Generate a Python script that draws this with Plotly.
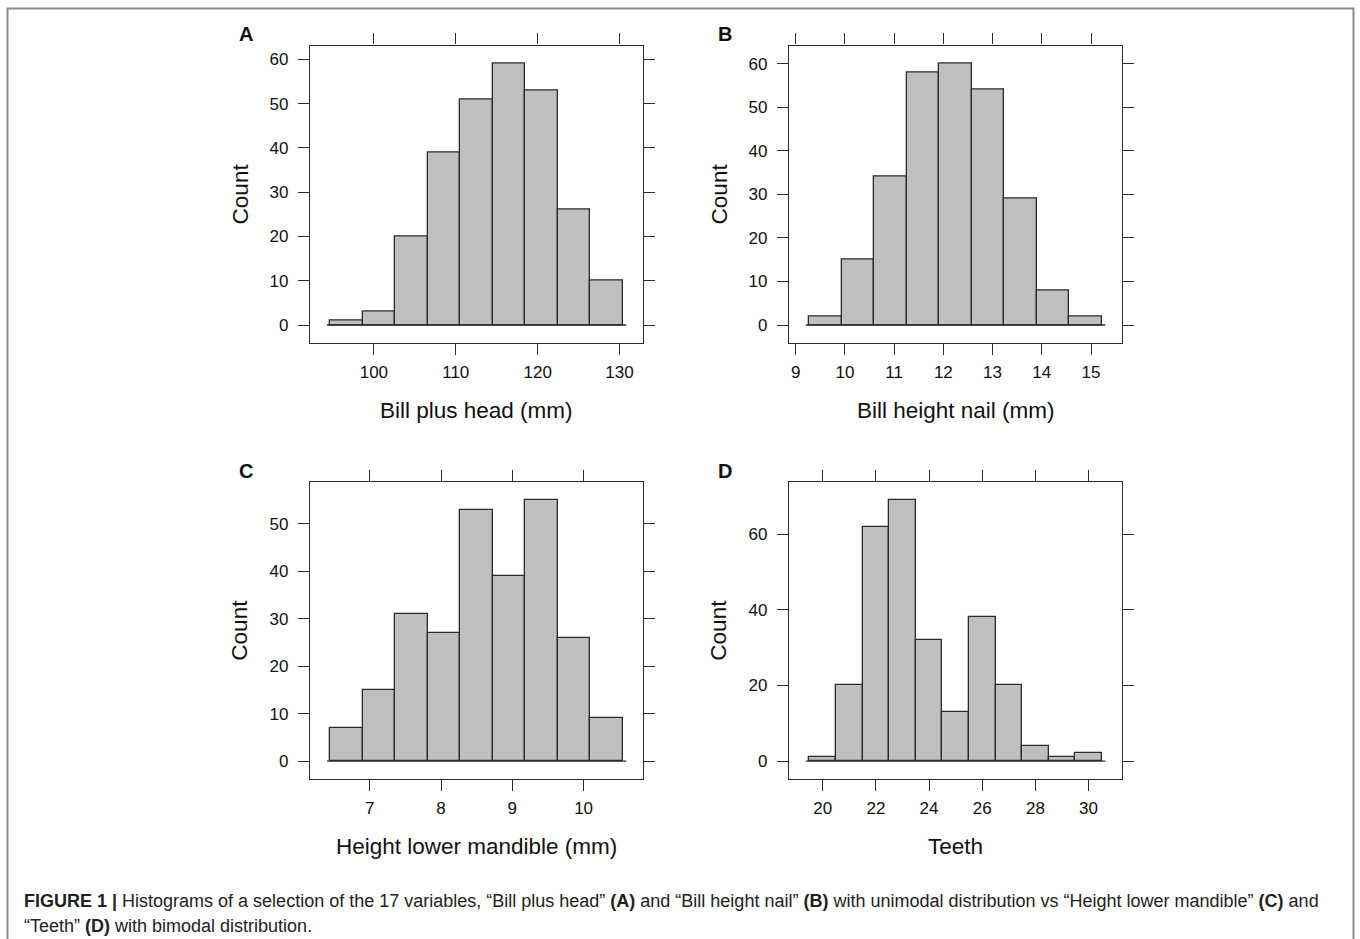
import plotly.graph_objects as go

W, H = 1360, 939

# ---- data ----
a_counts = [1, 3, 20, 39, 51, 59, 53, 26, 10]
a_edges = [94.7, 130.4]
a_xticks = [100, 110, 120, 130]
a_yticks = [0, 10, 20, 30, 40, 50, 60]

b_counts = [2, 15, 34, 58, 60, 54, 29, 8, 2]
b_edges = [9.28, 15.22]
b_xticks = [9, 10, 11, 12, 13, 14, 15]
b_yticks = [0, 10, 20, 30, 40, 50, 60]

c_counts = [7, 15, 31, 27, 53, 39, 55, 26, 9]
c_edges = [6.45, 10.55]
c_xticks = [7, 8, 9, 10]
c_yticks = [0, 10, 20, 30, 40, 50]

d_counts = [1, 20, 62, 69, 32, 13, 38, 20, 4, 1, 2]
d_edges = [19.5, 30.5]
d_xticks = [20, 22, 24, 26, 28, 30]
d_yticks = [0, 20, 40, 60]

panels = [
    ("A", a_counts, a_edges, a_xticks, a_yticks, "Bill plus head (mm)"),
    ("B", b_counts, b_edges, b_xticks, b_yticks, "Bill height nail (mm)"),
    ("C", c_counts, c_edges, c_xticks, c_yticks, "Height lower mandible (mm)"),
    ("D", d_counts, d_edges, d_xticks, d_yticks, "Teeth"),
]

# pixel boxes: (left, right, top, bottom)
boxes = [
    (310, 643.3, 45.5, 343.3),
    (789, 1122.3, 45.5, 343.3),
    (310, 643.3, 482, 779.3),
    (789, 1122.3, 482, 779.3),
]

FONT = "Liberation Sans, Arial, sans-serif"
INK = "#2b2b2b"

fig = go.Figure()
layout = dict(
    width=W, height=H,
    margin=dict(l=0, r=0, t=0, b=0),
    paper_bgcolor="white", plot_bgcolor="white",
    showlegend=False,
    bargap=0,
)
annotations = []
shapes = []

def px(x):
    return x / W

def py(y):
    return 1 - y / H

for i, (lab, counts, edges, xt, yt, xtitle) in enumerate(panels):
    n = i + 1
    xa = "x" if n == 1 else f"x{n}"
    ya = "y" if n == 1 else f"y{n}"
    lo, hi = edges
    nb = len(counts)
    bw = (hi - lo) / nb
    centers = [lo + bw * (k + 0.5) for k in range(nb)]
    fig.add_trace(go.Bar(
        x=centers, y=counts, width=[bw] * nb,
        marker=dict(color="#BFBFBF", line=dict(color=INK, width=1.3)),
        xaxis=xa, yaxis=ya, hoverinfo="x+y",
    ))
    pad = 0.07 * (hi - lo)
    ymax = max(counts)
    l, r, t, b = boxes[i]
    axis_common = dict(
        showline=True, linecolor=INK, linewidth=1.3, mirror="allticks",
        ticks="outside", ticklen=11, tickwidth=1.3, tickcolor=INK,
        showgrid=False, zeroline=False,
        tickfont=dict(family=FONT, size=17, color="#111"),
        fixedrange=True,
    )
    layout["xaxis" if n == 1 else f"xaxis{n}"] = dict(
        axis_common, domain=[px(l), px(r)], range=[lo - pad, hi + pad],
        tickmode="array", tickvals=xt, ticktext=[str(v) for v in xt],
        anchor=ya, ticklabelstandoff=2,
    )
    layout["yaxis" if n == 1 else f"yaxis{n}"] = dict(
        axis_common, domain=[py(b), py(t)], range=[-0.07 * ymax, 1.07 * ymax],
        tickmode="array", tickvals=yt, ticktext=[str(v) for v in yt],
        anchor=xa, ticklabelstandoff=6,
    )
    # baseline
    ext = 0.012 * (hi - lo)
    shapes.append(dict(type="line", xref=xa, yref=ya, x0=lo - ext, x1=hi + ext,
                       y0=0, y1=0, line=dict(color=INK, width=1.3)))
    cx = (l + r) / 2
    cy = (t + b) / 2
    # x title
    annotations.append(dict(text=xtitle, xref="paper", yref="paper",
                            x=px(cx), y=py(b + 67), showarrow=False,
                            xanchor="center", yanchor="middle",
                            font=dict(family=FONT, size=22.5, color="#111")))
    # y title
    annotations.append(dict(text="Count", xref="paper", yref="paper",
                            x=px(l - 70), y=py(cy), showarrow=False, textangle=-90,
                            xanchor="center", yanchor="middle",
                            font=dict(family=FONT, size=22.5, color="#111")))
    # panel letter
    annotations.append(dict(text=f"<b>{lab}</b>", xref="paper", yref="paper",
                            x=px(l - 64), y=py(t - 11), showarrow=False,
                            xanchor="center", yanchor="middle",
                            font=dict(family=FONT, size=20, color="#111")))

# caption
annotations.append(dict(
    text="<b>FIGURE 1 |</b> Histograms of a selection of the 17 variables, \u201cBill plus head\u201d <b>(A)</b> and \u201cBill height nail\u201d <b>(B)</b> with unimodal distribution vs \u201cHeight lower mandible\u201d <b>(C)</b> and",
    xref="paper", yref="paper", x=px(22), y=py(901), showarrow=False,
    xanchor="left", yanchor="middle", align="left",
    font=dict(family=FONT, size=18, color="#222")))
annotations.append(dict(
    text="\u201cTeeth\u201d <b>(D)</b> with bimodal distribution.",
    xref="paper", yref="paper", x=px(22), y=py(926), showarrow=False,
    xanchor="left", yanchor="middle", align="left",
    font=dict(family=FONT, size=18, color="#222")))

# figure frame
shapes.append(dict(type="rect", xref="paper", yref="paper",
                   x0=px(7.5), x1=px(1353.5), y0=-0.02, y1=py(8.5),
                   line=dict(color="#8a8a8a", width=2)))

layout["annotations"] = annotations
layout["shapes"] = shapes
fig.update_layout(**layout)
fig.write_html("out.html")
